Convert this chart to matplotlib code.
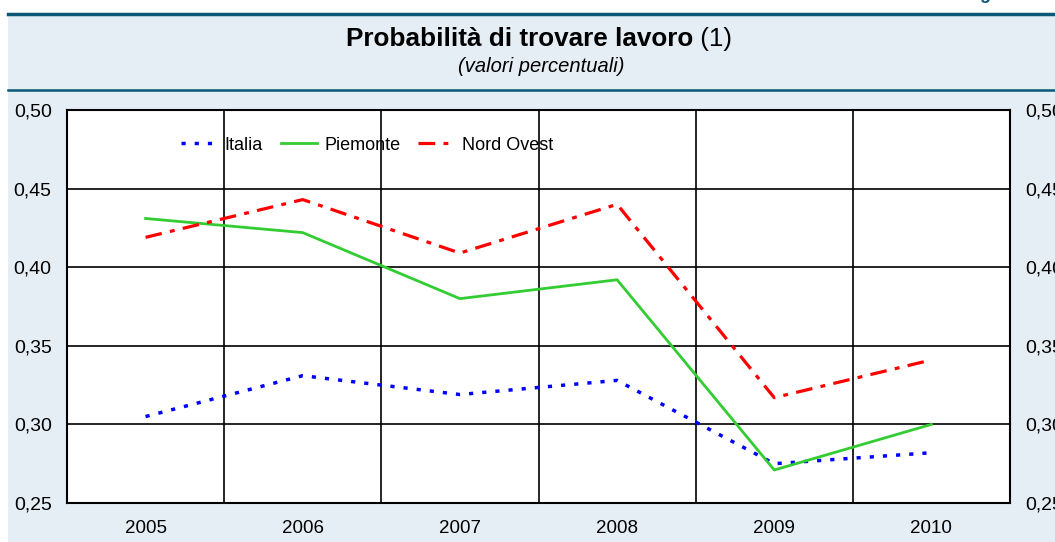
import numpy as np
import matplotlib
matplotlib.use("Agg")
import matplotlib.pyplot as plt
from matplotlib.patches import Rectangle
from matplotlib.lines import Line2D

plt.rcParams['font.family'] = ['Liberation Sans', 'DejaVu Sans']
plt.rcParams['lines.scale_dashes'] = False

years = ['2005', '2006', '2007', '2008', '2009', '2010']
italia = [0.305, 0.331, 0.319, 0.328, 0.275, 0.282]
piemonte = [0.431, 0.422, 0.380, 0.392, 0.271, 0.300]
nord_ovest = [0.419, 0.443, 0.409, 0.440, 0.317, 0.341]
yticks = [0.25, 0.30, 0.35, 0.40, 0.45, 0.50]
ytick_labels = ['0,25', '0,30', '0,35', '0,40', '0,45', '0,50']

W, H = 1055, 542
fig = plt.figure(figsize=(W / 100, H / 100), dpi=100, facecolor='white')

bg = '#E6EEF5'
teal = '#0B5878'
fig.patches.append(Rectangle((8 / W, 0), 1, 1 - 14 / H, transform=fig.transFigure,
                             facecolor=bg, edgecolor='none', zorder=-10))
fig.add_artist(Line2D([8 / W, 1], [1 - 14 / H] * 2, color=teal, lw=2.5, zorder=-5))
fig.add_artist(Line2D([8 / W, 1], [1 - 90 / H] * 2, color=teal, lw=1.8, zorder=-5))

# title: bold part + normal "(1)"
t1 = fig.text(0, 1 - 39 / H, 'Probabilità di trovare lavoro', fontsize=18.8,
              fontweight='bold', va='center', ha='left')
t2 = fig.text(0, 1 - 39 / H, ' (1)', fontsize=18.8, va='center', ha='left')
r = fig.canvas.get_renderer()
w1 = t1.get_window_extent(r).width
w2 = t2.get_window_extent(r).width
x0 = 539 - (w1 + w2) / 2
t1.set_x(x0 / W)
t2.set_x((x0 + w1) / W)
fig.text(541 / W, 1 - 66 / H, '(valori percentuali)', fontsize=14.5, style='italic',
         ha='center', va='center')
# cropped figure label at the very top right
fig.text(965 / W, 1 + 1 / H, 'Figura', fontsize=13, fontweight='bold',
         color=teal, ha='left', va='baseline')

ax = fig.add_axes([67 / W, 39 / H, 943 / W, 393 / H])
x = np.arange(len(years))
ax.plot(x, italia, color='#0000FF', lw=2.5, linestyle=(0, (3, 6.5)), label='Italia')
ax.plot(x, piemonte, color='#33CC33', lw=2, linestyle='-', label='Piemonte')
ax.plot(x, nord_ovest, color='#FF0000', lw=2.3, linestyle=(0, (12, 6, 3.5, 6)),
        label='Nord Ovest')

ax.set_xlim(-0.5, len(years) - 0.5)
ax.set_ylim(0.25, 0.50)
ax.set_xticks(x)
ax.set_xticklabels(years, fontsize=13.5)
ax.set_yticks(yticks)
ax.set_yticklabels(ytick_labels, fontsize=14)
ax.tick_params(axis='both', length=0)
ax.tick_params(axis='y', pad=11, right=True, labelright=True)
ax.tick_params(axis='x', pad=12)
for xb in np.arange(0.5, len(years) - 0.5):
    ax.axvline(xb, color='black', lw=1.2, zorder=1)
for yv in yticks[1:-1]:
    ax.axhline(yv, color='black', lw=1.2, zorder=1)
for s in ax.spines.values():
    s.set_linewidth(1.5)
ax.set_facecolor('white')

ax.legend(loc='center left', bbox_to_anchor=(165 / W, 1 - 145 / H),
          bbox_transform=fig.transFigure, ncol=3, frameon=False, fontsize=13,
          handlelength=2.0, handletextpad=0.4, columnspacing=1.0)

fig.savefig('out.png', dpi=100, facecolor=fig.get_facecolor())
